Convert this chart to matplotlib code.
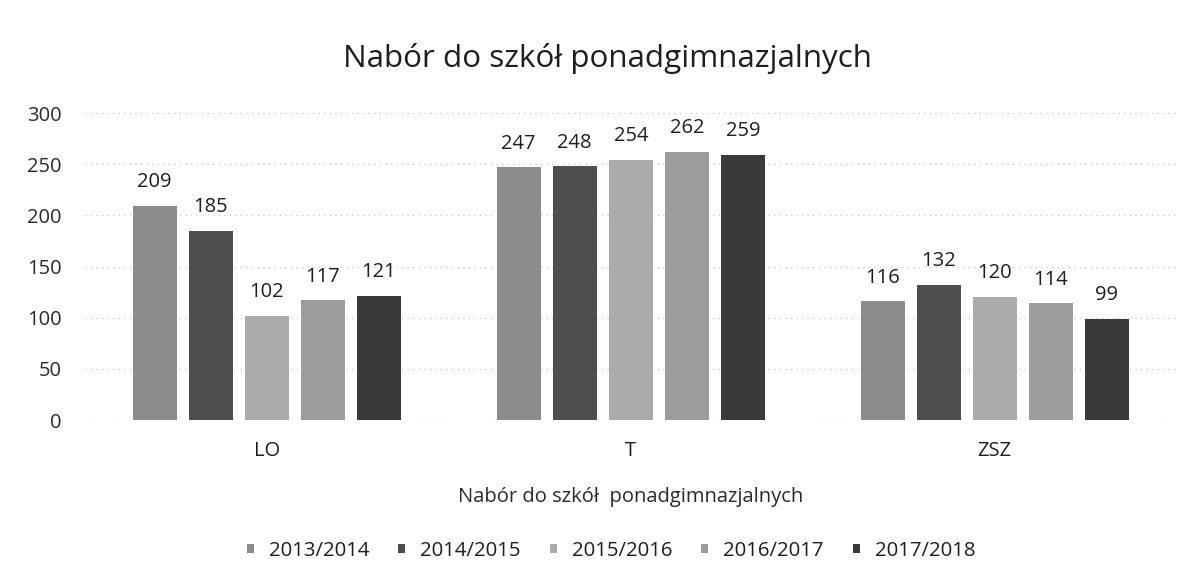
import matplotlib
matplotlib.use("Agg")
import matplotlib.pyplot as plt
import numpy as np

categories = ["LO", "T", "ZSZ"]
series = ["2013/2014", "2014/2015", "2015/2016", "2016/2017", "2017/2018"]
v2013 = [209, 247, 116]
v2014 = [185, 248, 132]
v2015 = [102, 254, 120]
v2016 = [117, 262, 114]
v2017 = [121, 259, 99]
values = [v2013, v2014, v2015, v2016, v2017]
colors = ["#8c8c8c", "#4e4e4e", "#ababab", "#9c9c9c", "#3a3a3a"]

plt.rcParams['font.family'] = ['Open Sans', 'DejaVu Sans']
fig = plt.figure(figsize=(11.94, 5.61), dpi=100)
ax = fig.add_axes([0.0710, 0.2513, 0.9146, 0.5472])

x = np.arange(len(categories))
pitch = 0.154
width = 0.121
for i, (s, vals, c) in enumerate(zip(series, values, colors)):
    pos = x + (i - 2) * pitch
    bars = ax.bar(pos, vals, width, color=c, label=s, zorder=3)
    for b, v in zip(bars, vals):
        ax.annotate(str(v), (b.get_x() + b.get_width() / 2, v), xytext=(0, 13.5),
                    textcoords="offset points", ha="center", va="baseline",
                    fontsize=14.5, color="#1e1e1e")

ax.set_xlim(-0.5, 2.5)
ax.set_ylim(0, 300)
ax.set_yticks(range(0, 301, 50))
ax.set_xticks(x)
ax.set_xticklabels(categories, fontsize=14.5, color="#1e1e1e")
ax.tick_params(axis="y", labelsize=14.5, labelcolor="#2a2a2a", length=0, pad=16.5)
ax.tick_params(axis="x", length=0, pad=15)
ax.grid(axis="y", color="#c4c4c4", linestyle=(0, (1, 4)), linewidth=0.8, zorder=0)
for sp in ax.spines.values():
    sp.set_visible(False)
ax.axhline(0, color="#c4c4c4", linestyle=(0, (1, 4)), linewidth=0.8, zorder=0)

fig.text(0.5088, 0.8806, "Nabór do szkół ponadgimnazjalnych", ha="center", va="baseline",
         fontsize=22.6, color="#1e1e1e")
fig.text(0.528, 0.114, "Nabór do szkół  ponadgimnazjalnych", ha="center", va="center",
         fontsize=14.5, color="#2a2a2a")
fig.legend(loc="center", bbox_to_anchor=(0.5117, 0.018), ncol=5, frameon=False,
           fontsize=14.7, handlelength=0.35, handleheight=0.35, columnspacing=1.42,
           handletextpad=0.73, labelcolor="#1e1e1e", borderpad=0.1)

fig.savefig("out.png", dpi=100)
